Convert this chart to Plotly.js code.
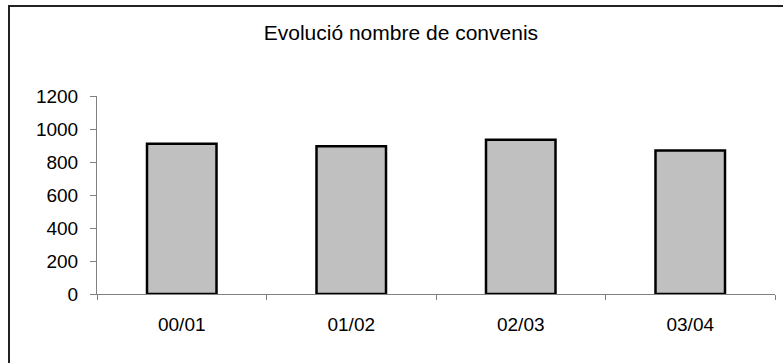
<!DOCTYPE html>
<html>
<head>
<meta charset="utf-8">
<script src="https://cdn.plot.ly/plotly-3.0.1.min.js"></script>
<style>html,body{margin:0;padding:0;background:#fff;}#chart{width:783px;height:363px;}</style>
</head>
<body>
<div id="chart"></div>
<script>
var categories = ['00/01', '01/02', '02/03', '03/04'];
var convenis = [910, 895, 935, 870];
var yTicks = [0, 200, 400, 600, 800, 1000, 1200];
var chartTitle = 'Evolució nombre de convenis';

var W = 783, H = 363;
var m = {l: 97, r: 8, t: 96, b: 69};
var pw = W - m.l - m.r, ph = H - m.t - m.b;
var FONT = 'Liberation Sans, Arial, sans-serif';

var trace = {
  type: 'bar',
  x: categories,
  y: convenis,
  marker: {color: '#c0c0c0', line: {color: '#000000', width: 2.5}},
  hoverinfo: 'none'
};

var layout = {
  width: W, height: H,
  margin: m,
  paper_bgcolor: '#ffffff',
  plot_bgcolor: '#ffffff',
  font: {family: FONT, size: 19, color: '#000000'},
  showlegend: false,
  bargap: 0.59,
  title: {
    text: chartTitle,
    font: {family: FONT, size: 21, color: '#000000'},
    xref: 'container', yref: 'container',
    x: 0.512, y: 1 - 33 / H, xanchor: 'center', yanchor: 'middle'
  },
  xaxis: {
    type: 'category',
    tickson: 'boundaries',
    ticks: 'outside', ticklen: 5, tickwidth: 1, tickcolor: '#808080',
    showline: true, linecolor: '#808080', linewidth: 1,
    showgrid: false, zeroline: false,
    tickfont: {family: FONT, size: 19, color: '#000000'},
    ticklabelstandoff: 13
  },
  yaxis: {
    range: [0, 1200],
    tickvals: yTicks,
    ticktext: yTicks.map(String),
    ticks: 'outside', ticklen: 6, tickwidth: 1, tickcolor: '#808080',
    showline: true, linecolor: '#808080', linewidth: 1,
    showgrid: false, zeroline: false,
    tickfont: {family: FONT, size: 19, color: '#000000'},
    ticklabelstandoff: 8
  },
  shapes: [{
    type: 'rect', xref: 'paper', yref: 'paper',
    x0: (9 - m.l) / pw, x1: (W + 20 - m.l) / pw,
    y0: -(m.b + 20) / ph, y1: (H - 6 - m.b) / ph,
    line: {color: '#222222', width: 2}, fillcolor: 'rgba(0,0,0,0)', layer: 'below'
  }]
};

Plotly.newPlot('chart', [trace], layout, {staticPlot: true, displayModeBar: false});
</script>
</body>
</html>
